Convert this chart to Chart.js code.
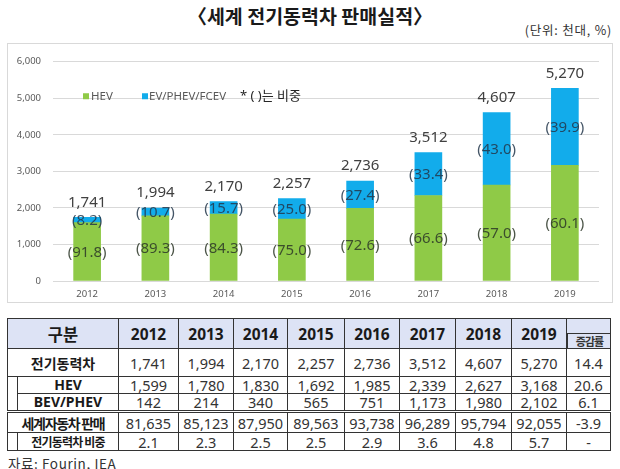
<!DOCTYPE html>
<html>
<head>
<meta charset="utf-8">
<script src="https://cdn.jsdelivr.net/npm/chart.js@4/dist/chart.umd.min.js"></script>
<style>
  html, body { margin:0; padding:0; background:#fff; }
  body { width:620px; height:469px; position:relative; overflow:hidden;
         font-family:"Noto Sans","Noto Sans CJK KR",sans-serif; color:#262626; }
  #title { position:absolute; left:0; width:620px; top:3px; text-align:center;
           font-family:"Noto Sans CJK KR"; font-weight:700; font-size:19.5px; line-height:26px; color:#1a1a1a; }
  #unit { position:absolute; right:8px; top:21px; font-family:"Noto Sans CJK KR"; font-size:12.5px; line-height:18px; letter-spacing:0.8px; color:#333; }
  #box { position:absolute; left:7px; top:43px; width:604px; height:258px; border:1px solid #d9d9d9; }
  #box canvas { position:absolute; left:0; top:0; }
  #tbl { position:absolute; left:7px; top:318px; border-collapse:collapse; table-layout:fixed; }
  #tbl td { border:1.3px solid #333; padding:0; text-align:center; vertical-align:middle;
            font-size:14.5px; line-height:14px; color:#333; white-space:nowrap; overflow:visible; }
  #tbl tr.hd td { background:#dde3f5; font-weight:700; font-size:15.5px; color:#1a1a1a; height:29px; }
  #tbl td.lab { font-family:"Noto Sans","Noto Sans CJK KR"; font-weight:700; color:#1a1a1a; font-size:14px; }
  #tbl td.ind { border-top:none; border-bottom:none; border-right:1.3px solid #333; }
  #tbl tr.dbl td { border-top:3.5px double #333; }
  #tbl td.gr { position:relative; padding:0; }
  #grbox { position:absolute; left:0; right:-1px; bottom:-1px; height:15px; border-top:1.3px solid #333; border-left:1.3px solid #333;
           font-family:"Noto Sans CJK KR"; font-weight:700; font-size:11px; line-height:15px; letter-spacing:-1px; color:#333; }
  #src { position:absolute; left:8px; top:454px; font-family:"Noto Sans CJK KR"; font-size:13.5px; line-height:18px; letter-spacing:0.6px; color:#333; }
</style>
</head>
<body>
<div id="title">〈세계 전기동력차 판매실적〉</div>
<div id="unit">(단위: 천대, %)</div>
<div id="box"><canvas id="c" width="604" height="258"></canvas></div>
<table id="tbl"></table>
<div id="src">자료: Fourin, IEA</div>
<script>
// ---------- data ----------
const years = ["2012","2013","2014","2015","2016","2017","2018","2019"];
const hevValues = [1599, 1780, 1830, 1692, 1985, 2339, 2627, 3168];
const evValues  = [142, 214, 340, 565, 751, 1173, 1980, 2102];
const totalValues = [1741, 1994, 2170, 2257, 2736, 3512, 4607, 5270];
const hevShare = [91.8, 89.3, 84.3, 75.0, 72.6, 66.6, 57.0, 60.1];
const evShare  = [8.2, 10.7, 15.7, 25.0, 27.4, 33.4, 43.0, 39.9];
const yTicks = [0, 1000, 2000, 3000, 4000, 5000, 6000];
const seriesNames = ["HEV", "EV/PHEV/FCEV"];
const legendNote = "* ( )는 비중";

// table data
const tableRowLabels = ["전기동력차", "HEV", "BEV/PHEV", "세계자동차 판매", "전기동력차 비중"];
const rowElectric = [1741, 1994, 2170, 2257, 2736, 3512, 4607, 5270];
const rowHev = [1599, 1780, 1830, 1692, 1985, 2339, 2627, 3168];
const rowBev = [142, 214, 340, 565, 751, 1173, 1980, 2102];
const rowWorld = [81635, 85123, 87950, 89563, 93738, 96289, 95794, 92055];
const rowShare = ["2.1", "2.3", "2.5", "2.5", "2.9", "3.6", "4.8", "5.7"];
const growth = ["14.4", "20.6", "6.1", "-3.9", "-"];

const GREEN = "#8fca47";
const BLUE = "#12aceb";
const fmt = v => v.toLocaleString("en-US");

// ---------- table ----------
(function buildTable(){
  const colW = [10, 101, 60, 55, 54, 57, 55, 56, 56, 55, 44];
  const t = document.getElementById("tbl");
  let h = "<colgroup>" + colW.map(w => `<col style="width:${w}px">`).join("") + "</colgroup>";
  h += `<tr class="hd"><td colspan="2" style="font-family:'Noto Sans CJK KR';font-size:16.5px">구분</td>` +
       years.map(y => `<td>${y}</td>`).join("") + `<td class="gr"><div id="grbox">증감률</div></td></tr>`;
  const cells = arr => arr.map(v => `<td>${typeof v === "number" ? fmt(v) : v}</td>`).join("");
  h += `<tr style="height:28px"><td colspan="2" class="lab" style="font-family:'Noto Sans CJK KR'">${tableRowLabels[0]}</td>${cells(rowElectric)}<td>${growth[0]}</td></tr>`;
  h += `<tr style="height:17px"><td class="ind" rowspan="2"></td><td class="lab">${tableRowLabels[1]}</td>${cells(rowHev)}<td>${growth[1]}</td></tr>`;
  h += `<tr style="height:18px"><td class="lab">${tableRowLabels[2]}</td>${cells(rowBev)}<td>${growth[2]}</td></tr>`;
  h += `<tr class="dbl" style="height:21px"><td colspan="2" class="lab" style="font-family:'Noto Sans CJK KR';letter-spacing:-1.3px">${tableRowLabels[3]}</td>${cells(rowWorld)}<td>${growth[3]}</td></tr>`;
  h += `<tr style="height:18px"><td class="ind" style="border-bottom:1.3px solid #333"></td><td class="lab" style="font-family:'Noto Sans CJK KR';font-size:12px;letter-spacing:-0.8px">${tableRowLabels[4]}</td>${cells(rowShare)}<td>${growth[4]}</td></tr>`;
  t.innerHTML = h;
})();

// ---------- chart ----------
const labelPlugin = {
  id: "barLabels",
  afterDatasetsDraw(chart) {
    const ctx = chart.ctx;
    const m0 = chart.getDatasetMeta(0), m1 = chart.getDatasetMeta(1);
    ctx.save();
    ctx.textAlign = "center";
    ctx.textBaseline = "middle";
    ctx.font = "15px 'Noto Sans'";
    years.forEach((_, i) => {
      const b0 = m0.data[i], b1 = m1.data[i];
      ctx.fillStyle = "rgba(45,55,40,0.85)";
      ctx.fillText("(" + hevShare[i].toFixed(1) + ")", b0.x, (b0.y + b0.base) / 2 + 1);
      ctx.fillStyle = "rgba(35,55,75,0.85)";
      ctx.fillText("(" + evShare[i].toFixed(1) + ")", b1.x, (b1.y + b1.base) / 2 + 1);
      ctx.fillStyle = "#404040";
      ctx.fillText(fmt(totalValues[i]), b1.x, b1.y - 15);
    });
    ctx.restore();
  }
};
const legendPlugin = {
  id: "customLegend",
  afterDraw(chart) {
    const ctx = chart.ctx;
    const ca = chart.chartArea;
    const y = chart.scales.y.getPixelForValue(5000) - 2;
    ctx.save();
    ctx.textBaseline = "middle";
    ctx.textAlign = "left";
    ctx.font = "11.5px 'Noto Sans'";
    ctx.fillStyle = GREEN; ctx.fillRect(ca.left + 30, y - 3, 6, 6);
    ctx.fillStyle = "#595959"; ctx.fillText(seriesNames[0], ca.left + 38, y);
    ctx.fillStyle = BLUE; ctx.fillRect(ca.left + 89, y - 3, 6, 6);
    ctx.fillStyle = "#595959"; ctx.fillText(seriesNames[1], ca.left + 96, y);
    ctx.font = "13px 'Noto Sans','Noto Sans CJK KR'";
    ctx.fillStyle = "#262626"; ctx.fillText(legendNote, ca.left + 187, y);
    ctx.restore();
  }
};

new Chart(document.getElementById("c"), {
  type: "bar",
  data: {
    labels: years,
    datasets: [
      { label: seriesNames[0], data: hevValues, backgroundColor: GREEN, barThickness: 27 },
      { label: seriesNames[1], data: evValues, backgroundColor: BLUE, barThickness: 27 }
    ]
  },
  options: {
    responsive: false,
    animation: false,
    layout: { padding: { top: 6, right: 13, bottom: 0, left: 0 } },
    plugins: { legend: { display: false }, tooltip: { enabled: false } },
    scales: {
      x: {
        stacked: true,
        grid: { display: false, drawTicks: false },
        border: { display: false },
        ticks: { color: "#595959", font: { family: "Noto Sans", size: 9.5 }, padding: 8 },
        afterFit: s => { s.height = 21; }
      },
      y: {
        stacked: true, min: 0, max: 6000,
        afterBuildTicks: s => { s.ticks = yTicks.map(v => ({ value: v })); },
        grid: { color: "#d9d9d9", drawTicks: false, lineWidth: 1 },
        border: { display: false },
        ticks: { color: "#595959", font: { family: "Noto Sans", size: 9.5 }, padding: 12, callback: v => fmt(v) },
        afterFit: s => { s.width = 45; }
      }
    }
  },
  plugins: [labelPlugin, legendPlugin]
});
</script>
</body>
</html>
